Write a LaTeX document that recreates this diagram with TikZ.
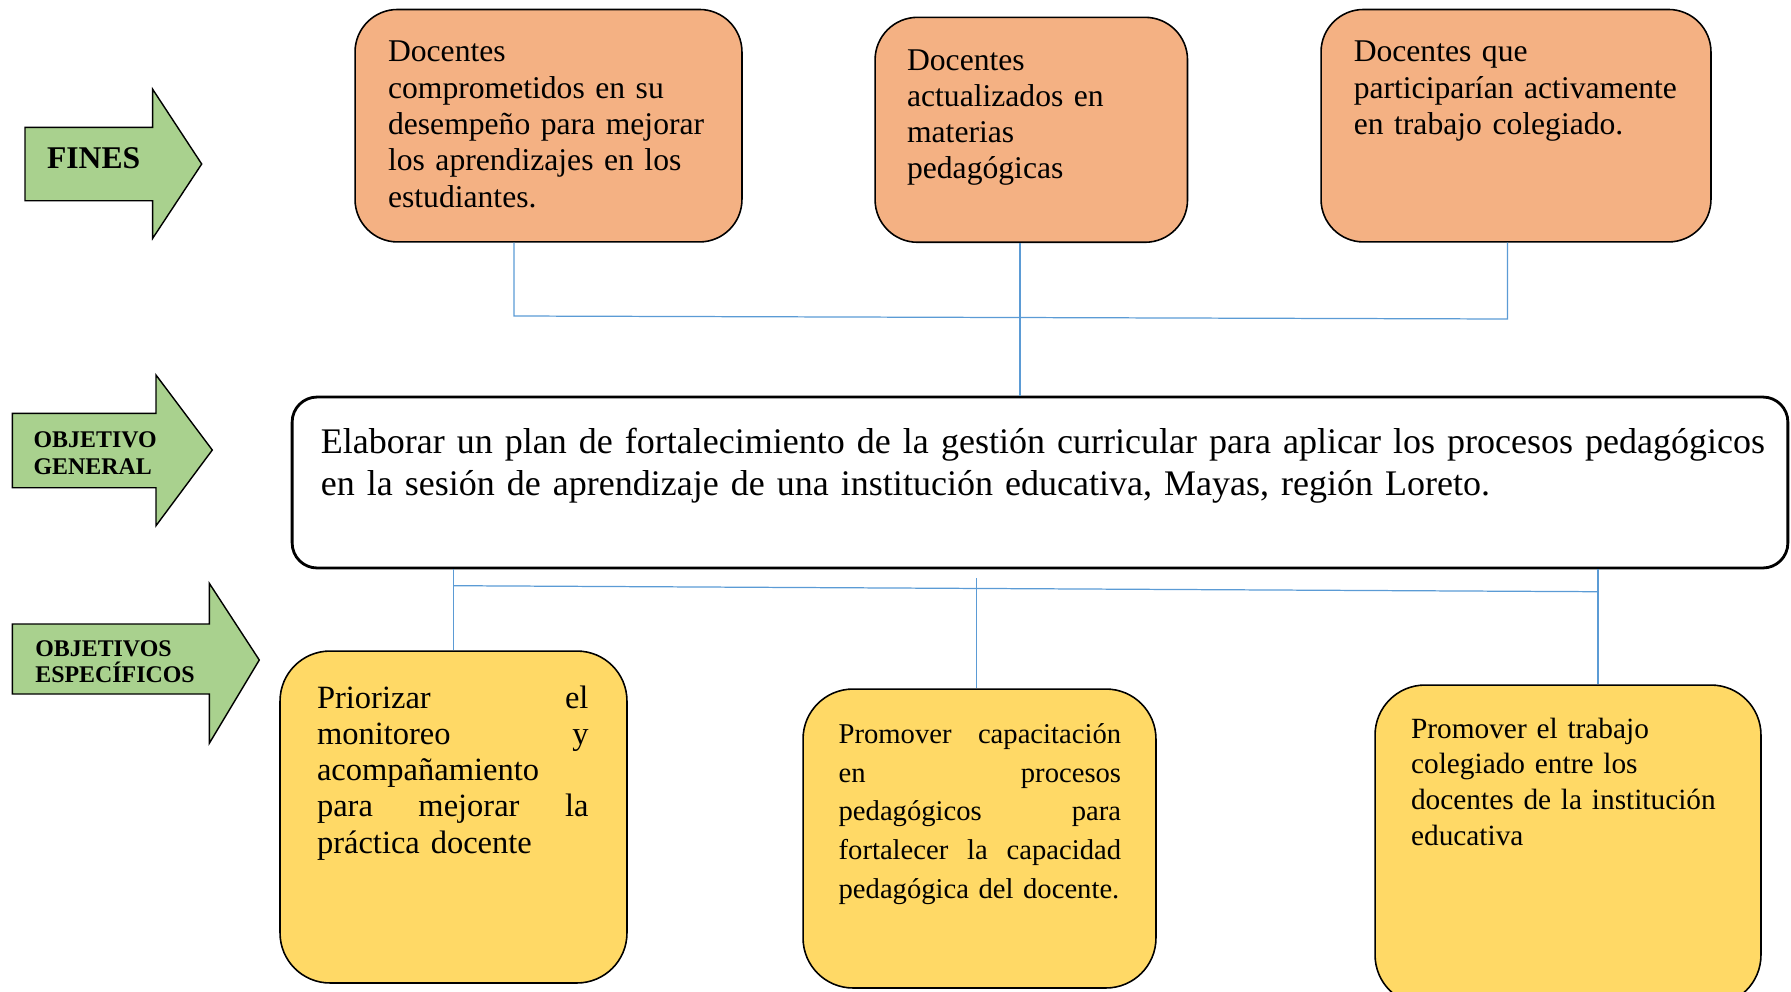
\documentclass[tikz,border=0pt]{standalone}
\usepackage{fontspec}
\setmainfont{Liberation Serif}
\usepackage{tikz}
\definecolor{finfill}{HTML}{F4B183}
\definecolor{espfill}{HTML}{FFD966}
\definecolor{flechafill}{HTML}{A9D18E}
\definecolor{enlace}{HTML}{5B9BD5}
\newcommand{\jf}{\nobreak\hfill}
\hyphenpenalty=10000
\exhyphenpenalty=10000
\tikzstyle{finbox}=[draw,line width=0.9pt,rounded corners=0.85cm,fill=finfill]
\tikzstyle{espbox}=[draw,line width=0.9pt,rounded corners=1cm,fill=espfill]
\tikzstyle{genbox}=[draw,line width=1.6pt,rounded corners=0.5cm,fill=white]
\tikzstyle{flecha}=[draw,line width=0.8pt,fill=flechafill,line join=miter]
\tikzstyle{link}=[enlace,line width=0.7pt]
\tikzstyle{texto}=[anchor=base west,inner sep=0pt,align=left]
\tikzstyle{rotulo}=[anchor=base west,inner sep=0pt,align=left,text width=4.2cm,font=\bfseries\fontsize{13.6}{15.5}\selectfont]

\begin{document}
\begin{tikzpicture}[x=0.02cm,y=-0.02cm]
    \clip (0,0) rectangle (1791,991);

    % flechas de la izquierda
    \draw[flecha] (25,127.3) -- (152.7,127.3) -- (152.7,89.3) -- (201.7,164) -- (152.7,238.3) -- (152.7,200.7) -- (25,200.7) -- cycle;
    \draw[flecha] (12.3,413.3) -- (156,413.3) -- (156,375) -- (212.3,450) -- (156,525.7) -- (156,487.7) -- (12.3,487.7) -- cycle;
    \draw[flecha] (12.3,624) -- (209.3,624) -- (209.3,583.3) -- (259.3,660) -- (209.3,743.3) -- (209.3,694) -- (12.3,694) -- cycle;

    \node[rotulo,font=\bfseries\fontsize{18}{20}\selectfont] (fines) at (46.7,168.3) {FINES};
    \node[rotulo] (ogen) at (33.3,447.3) {OBJETIVO\\GENERAL};
    \node[rotulo,font=\bfseries\fontsize{13.6}{15.2}\selectfont] (oesp) at (35,656) {OBJETIVOS\\ESPECÍFICOS};

    % cajas
    \node[finbox,minimum width=7.74cm,minimum height=4.65cm] (fin1) at (548.5,125.7) {};
    \node[finbox,minimum width=6.25cm,minimum height=4.5cm] (fin2) at (1031.3,129.8) {};
    \node[finbox,minimum width=7.8cm,minimum height=4.65cm] (fin3) at (1516,125.7) {};
    \node[genbox,minimum width=29.92cm,minimum height=3.42cm] (gen) at (1040,482.5) {};
    \node[espbox,minimum width=6.94cm,minimum height=6.64cm] (esp1) at (453.5,817) {};
    \node[espbox,minimum width=7.06cm,minimum height=5.98cm] (esp2) at (979.5,838.5) {};
    \node[espbox,minimum width=7.72cm,minimum height=6.4cm] (esp3) at (1568,845) {};

    % conectores
    \coordinate (busL) at (514,316);
    \coordinate (busR) at (1507.5,319);
    \draw[link] (fin1.south -| busL) -- (busL) -- (busR) -- (fin3.south -| busR);
    \draw[link] ([xshift=-0.226cm]fin2.south) -- ([xshift=-0.226cm]fin2.south |- gen.north);

    \coordinate (barL) at (453.5,585.7);
    \coordinate (barR) at (1597,591.7);
    \coordinate (midtop) at (976.5,578);
    \draw[link] (esp1.north) -- (esp1.north |- gen.south);
    \draw[link] (barL) -- (barR);
    \draw[link] ([xshift=0.6cm]esp3.north) -- ([xshift=0.6cm]esp3.north |- gen.south);
    \draw[link] (midtop) -- (esp2.north -| midtop);

    % textos
    \node[texto,text width=6.9cm,font=\fontsize{18}{20.7}\selectfont] (tfin1) at (387.7,61.7)
        {Docentes\\comprometidos en su\\desempeño para mejorar\\los aprendizajes en los\\estudiantes.};
    \node[texto,text width=5.6cm,font=\fontsize{18}{20.5}\selectfont] (tfin2) at (906.7,70)
        {Docentes\\actualizados en\\materias\\pedagógicas};
    \node[texto,text width=6.9cm,font=\fontsize{18}{20.7}\selectfont] (tfin3) at (1353.4,61.7)
        {Docentes que\\participarían activamente\\en trabajo colegiado.};
    \node[texto,text width=30cm,font=\fontsize{20.5}{24}\selectfont] (tgen) at (320.5,453)
        {Elaborar un plan de fortalecimiento de la gestión curricular para aplicar los procesos pedagógicos\\en la sesión de aprendizaje de una institución educativa, Mayas, región Loreto.};
    \node[texto,text width=5.43cm,font=\fontsize{18.5}{20.6}\selectfont] (tesp1) at (316.7,708.3)
        {Priorizar\jf el\\monitoreo\jf y\\acompañamiento\\para\jf mejorar\jf la\\práctica~docente};
    \node[texto,text width=5.65cm,font=\fontsize{16.3}{22}\selectfont] (tesp2) at (838.3,743.5)
        {Promover\jf capacitación\\en\jf procesos\\pedagógicos\jf para\\fortalecer\jf la\jf capacidad\\pedagógica~del~docente.};
    \node[texto,text width=6.9cm,font=\fontsize{16.7}{20.3}\selectfont] (tesp3) at (1410.7,738.3)
        {Promover el trabajo\\colegiado entre los\\docentes de la institución\\educativa};
  \end{tikzpicture}
\end{document}
